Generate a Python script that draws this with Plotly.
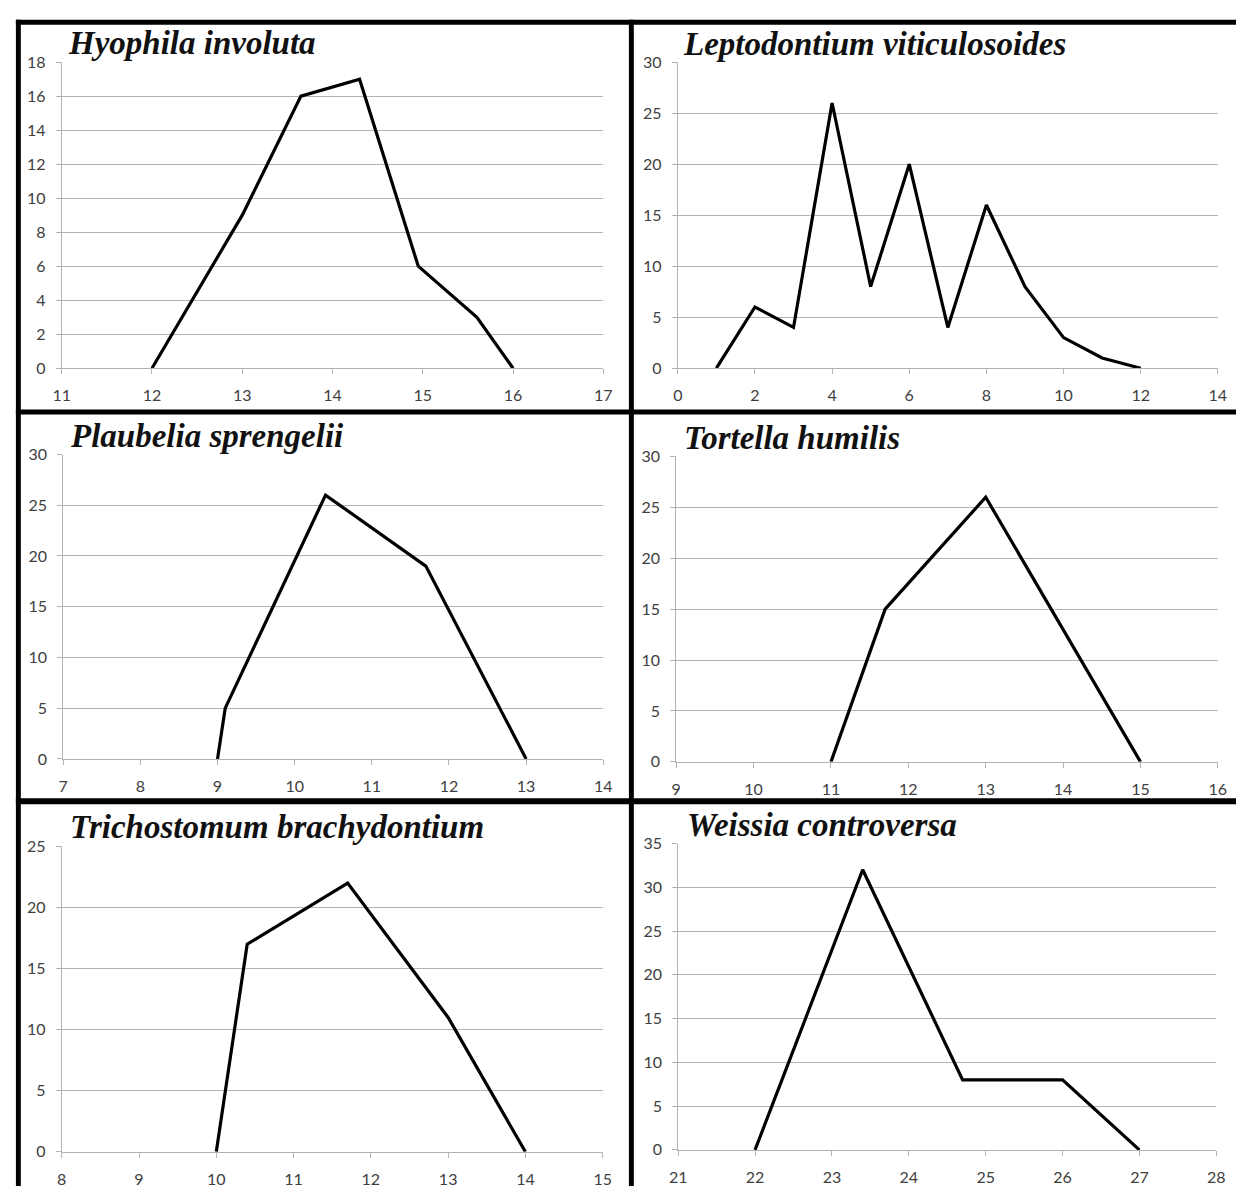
import plotly.graph_objects as go

W, H = 1245, 1195

# ---- data ----
titles = ["Hyophila involuta", "Leptodontium viticulosoides", "Plaubelia sprengelii",
          "Tortella humilis", "Trichostomum brachydontium", "Weissia controversa"]

x_hyophila = [12, 13, 13.65, 14.3, 14.95, 15.6, 16]
y_hyophila = [0, 9, 16, 17, 6, 3, 0]

x_lepto = [1, 2, 3, 4, 5, 6, 7, 8, 9, 10, 11, 12]
y_lepto = [0, 6, 4, 26, 8, 20, 4, 16, 8, 3, 1, 0]

x_plaub = [9, 9.1, 10.4, 11.7, 13]
y_plaub = [0, 5, 26, 19, 0]

x_tort = [11, 11.7, 13, 15]
y_tort = [0, 15, 26, 0]

x_trich = [10, 10.4, 11.7, 13, 14]
y_trich = [0, 17, 22, 11, 0]

x_weis = [22, 23.4, 24.7, 26, 27]
y_weis = [0, 32, 8, 8, 0]

xranges = [[11, 17], [0, 14], [7, 14], [9, 16], [8, 15], [21, 28]]
yranges = [[0, 18], [0, 30], [0, 30], [0, 30], [0, 25], [0, 35]]
xdticks = [1, 2, 1, 1, 1, 1]
ydticks = [2, 5, 5, 5, 5, 5]

series = [(x_hyophila, y_hyophila), (x_lepto, y_lepto), (x_plaub, y_plaub),
          (x_tort, y_tort), (x_trich, y_trich), (x_weis, y_weis)]

# ---- layout (pixel boxes of plot areas) ----
boxes = [  # x0, x1, ytop, ybottom
    (53.5, 603, 53, 364),
    (678.6, 1226.6, 53, 364),
    (55, 603, 451.7, 761),
    (677, 1226.6, 453.7, 764),
    (53.5, 602.4, 850, 1160.3),
    (679, 1225, 847, 1158.3),
]
title_pos = [(58, 45), (682, 46), (60, 444), (683, 446), (60, 842), (686, 839)]

fig = go.Figure()
layout = dict(width=W, height=H, margin=dict(l=0, r=0, t=0, b=0),
              paper_bgcolor="white", plot_bgcolor="white", showlegend=False)

grid_col = "#b3b3b3"
tick_font = dict(family="Lato, Open Sans, sans-serif", size=16, color="#404040")

annotations = []
for i, ((xs, ys), box) in enumerate(zip(series, boxes)):
    n = "" if i == 0 else str(i + 1)
    x0, x1, yt, yb = box
    fig.add_trace(go.Scatter(x=xs, y=ys, mode="lines",
                             line=dict(color="black", width=3.2),
                             xaxis="x" + n, yaxis="y" + n, hoverinfo="skip"))
    layout["xaxis" + n] = dict(
        domain=[x0 / W, x1 / W], range=xranges[i], dtick=xdticks[i], tick0=0,
        anchor="y" + n, showgrid=False, zeroline=False, showline=True,
        linecolor=grid_col, linewidth=1, ticks="outside", ticklen=5,
        tickcolor=grid_col, tickfont=tick_font, ticklabelstandoff=8, fixedrange=True)
    layout["yaxis" + n] = dict(
        domain=[1 - yb / H, 1 - yt / H], range=yranges[i], dtick=ydticks[i], tick0=0,
        anchor="x" + n, showgrid=True, gridcolor=grid_col, gridwidth=1,
        zeroline=False, showline=True, linecolor=grid_col, linewidth=1,
        ticks="outside", ticklen=5, tickcolor=grid_col, tickfont=tick_font,
        ticklabelstandoff=7, fixedrange=True)
    tx, ty = title_pos[i]
    annotations.append(dict(
        text="<b><i>" + titles[i] + "</i></b>", xref="paper", yref="paper",
        x=tx / W, y=1 - (ty + 9) / H, xanchor="left", yanchor="bottom",
        showarrow=False, font=dict(family="Liberation Serif, Times New Roman, serif",
                                   size=33, color="#111111")))

layout["annotations"] = annotations

# thick black frame lines
rects = [
    (7, 10, 12, H),       # left border
    (7, 10, W, 15),       # top border
    (629, 10, 634, H),    # vertical divider
    (7, 406, W, 411),     # first horizontal divider
    (7, 801, W, 807),     # second horizontal divider
]
layout["shapes"] = [dict(type="rect", xref="paper", yref="paper",
                         x0=a / W, x1=c / W, y0=1 - d / H, y1=1 - b / H,
                         fillcolor="black", line=dict(width=0), layer="above")
                    for a, b, c, d in rects]

fig.update_layout(**layout)
fig.write_html("out.html", config={"displayModeBar": False},
               post_script="document.body.style.margin='0';"
                           "document.body.style.overflow='hidden';")
